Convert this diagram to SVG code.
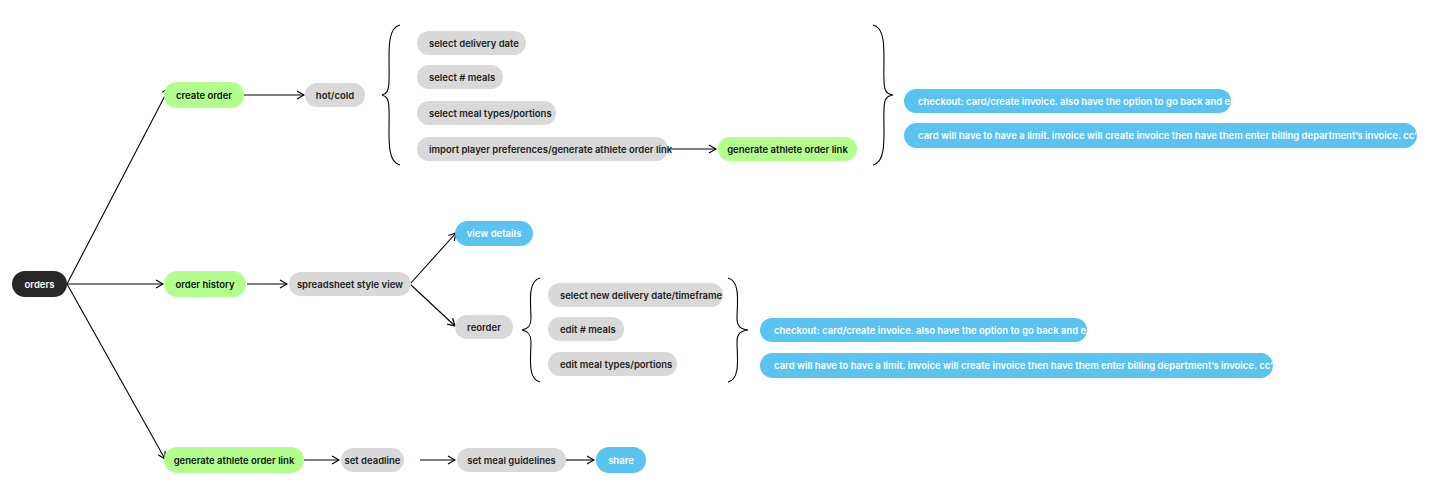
<svg xmlns="http://www.w3.org/2000/svg" width="1446" height="498" viewBox="0 0 1446 498">
<defs>
<marker id="ah" viewBox="0 0 10 10" refX="9" refY="5" markerWidth="10" markerHeight="10" markerUnits="userSpaceOnUse" orient="auto"><path d="M2,1 L9,5 L2,9" fill="none" stroke="#000" stroke-width="1.2"/></marker>
</defs>
<style>
text{font-family:Inter,"Liberation Sans",sans-serif;font-size:9.5px;font-weight:600;dominant-baseline:central}
.g rect{fill:#d9d9d9}.g text{fill:#222}
.gr rect{fill:#b2ff8e}.gr text{fill:#111}
.b rect{fill:#5bc3f0}.b text{fill:#fff}
.d rect{fill:#272727}.d text{fill:#fff}
.c path,.c line{stroke:#000;stroke-width:1.1;fill:none}
</style>
<g class="c">
<line x1="67" y1="284" x2="169" y2="88" marker-end="url(#ah)"/>
<line x1="67" y1="284" x2="163" y2="284" marker-end="url(#ah)"/>
<line x1="67" y1="284" x2="165" y2="459" marker-end="url(#ah)"/>
<line x1="244" y1="95" x2="304" y2="95" marker-end="url(#ah)"/>
<line x1="247" y1="284" x2="287" y2="284" marker-end="url(#ah)"/>
<line x1="410" y1="284" x2="456" y2="233" marker-end="url(#ah)"/>
<line x1="410" y1="284" x2="455" y2="326" marker-end="url(#ah)"/>
<line x1="669" y1="149" x2="716" y2="149" marker-end="url(#ah)"/>
<line x1="304" y1="460" x2="339" y2="460" marker-end="url(#ah)"/>
<line x1="420" y1="460" x2="455" y2="460" marker-end="url(#ah)"/>
<line x1="566" y1="460" x2="594" y2="460" marker-end="url(#ah)"/>
<path d="M400,25 C385,28 390,60 389,80 C389,92 386,94 382,95 C386,96 389,98 389,110 C390,130 385,162 400,165"/>
<path d="M873,25 C888,28 883,60 884,80 C884,92 887,94 893,95 C887,96 884,98 884,110 C883,130 888,162 873,165"/>
<path d="M540,278 C527,281 531,305 531,318 C531,326 528,329 522,330 C528,331 531,334 531,342 C531,356 527,379 540,382"/>
<path d="M728,278 C741,281 737,305 737,318 C737,326 740,329 748,330 C740,331 737,334 737,342 C737,356 741,379 728,382"/>
</g>
<g id="orders" class="d"><rect x="12" y="271" width="55" height="26" rx="13"/><text x="39.5" y="284" text-anchor="middle">orders</text></g>
<g id="create-order" class="gr"><rect x="164" y="82" width="80" height="26" rx="13"/><text x="204" y="95" text-anchor="middle">create order</text></g>
<g id="hot-cold" class="g"><rect x="305" y="83" width="60" height="24" rx="12"/><text x="335" y="95" text-anchor="middle">hot/cold</text></g>
<g id="sel-date" class="g"><rect x="417" y="31" width="109" height="24" rx="12"/><text x="429" y="43">select delivery date</text></g>
<g id="sel-meals" class="g"><rect x="417" y="65" width="86" height="24" rx="12"/><text x="429" y="77">select # meals</text></g>
<g id="sel-types" class="g"><rect x="417" y="101" width="139" height="24" rx="12"/><text x="429" y="113">select meal types/portions</text></g>
<g id="import" class="g"><rect x="417" y="137" width="251" height="24" rx="12"/><text x="429" y="149">import player preferences/generate athlete order link</text></g>
<g id="gen-link1" class="gr"><rect x="718" y="137" width="139" height="24" rx="12"/><text x="787.5" y="149" text-anchor="middle">generate athlete order link</text></g>
<g id="checkout1" class="b"><rect x="904" y="89" width="327" height="24" rx="12"/><text x="918" y="101">checkout: card/create invoice. also have the option to go back and edit</text></g>
<g id="card1" class="b"><rect x="904" y="123" width="513" height="25" rx="12.5"/><text x="918" y="135.5">card will have to have a limit. invoice will create invoice then have them enter billing department’s invoice. cc’s ham</text></g>
<g id="order-history" class="gr"><rect x="164" y="271" width="82" height="26" rx="13"/><text x="205" y="284" text-anchor="middle">order history</text></g>
<g id="spreadsheet" class="g"><rect x="289" y="272" width="122" height="24" rx="12"/><text x="350" y="284" text-anchor="middle">spreadsheet style view</text></g>
<g id="view-details" class="b"><rect x="455" y="221" width="78" height="25" rx="12.5"/><text x="494" y="233.5" text-anchor="middle">view details</text></g>
<g id="reorder" class="g"><rect x="455" y="315" width="58" height="24" rx="12"/><text x="484" y="327" text-anchor="middle">reorder</text></g>
<g id="new-date" class="g"><rect x="548" y="283" width="175" height="24" rx="12"/><text x="560" y="295">select new delivery date/timeframe</text></g>
<g id="edit-meals" class="g"><rect x="548" y="317" width="76" height="24" rx="12"/><text x="560" y="329">edit # meals</text></g>
<g id="edit-types" class="g"><rect x="548" y="352" width="129" height="24" rx="12"/><text x="560" y="364">edit meal types/portions</text></g>
<g id="checkout2" class="b"><rect x="760" y="318" width="327" height="24" rx="12"/><text x="774" y="330">checkout: card/create invoice. also have the option to go back and edit</text></g>
<g id="card2" class="b"><rect x="760" y="353" width="513" height="25" rx="12.5"/><text x="774" y="365.5">card will have to have a limit. invoice will create invoice then have them enter billing department’s invoice. cc’s ham</text></g>
<g id="gen-link2" class="gr"><rect x="164" y="447" width="140" height="26" rx="13"/><text x="234" y="460" text-anchor="middle">generate athlete order link</text></g>
<g id="deadline" class="g"><rect x="341" y="448" width="63" height="24" rx="12"/><text x="372.5" y="460" text-anchor="middle">set deadline</text></g>
<g id="guidelines" class="g"><rect x="457" y="448" width="109" height="24" rx="12"/><text x="511.5" y="460" text-anchor="middle">set meal guidelines</text></g>
<g id="share" class="b"><rect x="596" y="447" width="50" height="26" rx="13"/><text x="621" y="460" text-anchor="middle">share</text></g>
</svg>
